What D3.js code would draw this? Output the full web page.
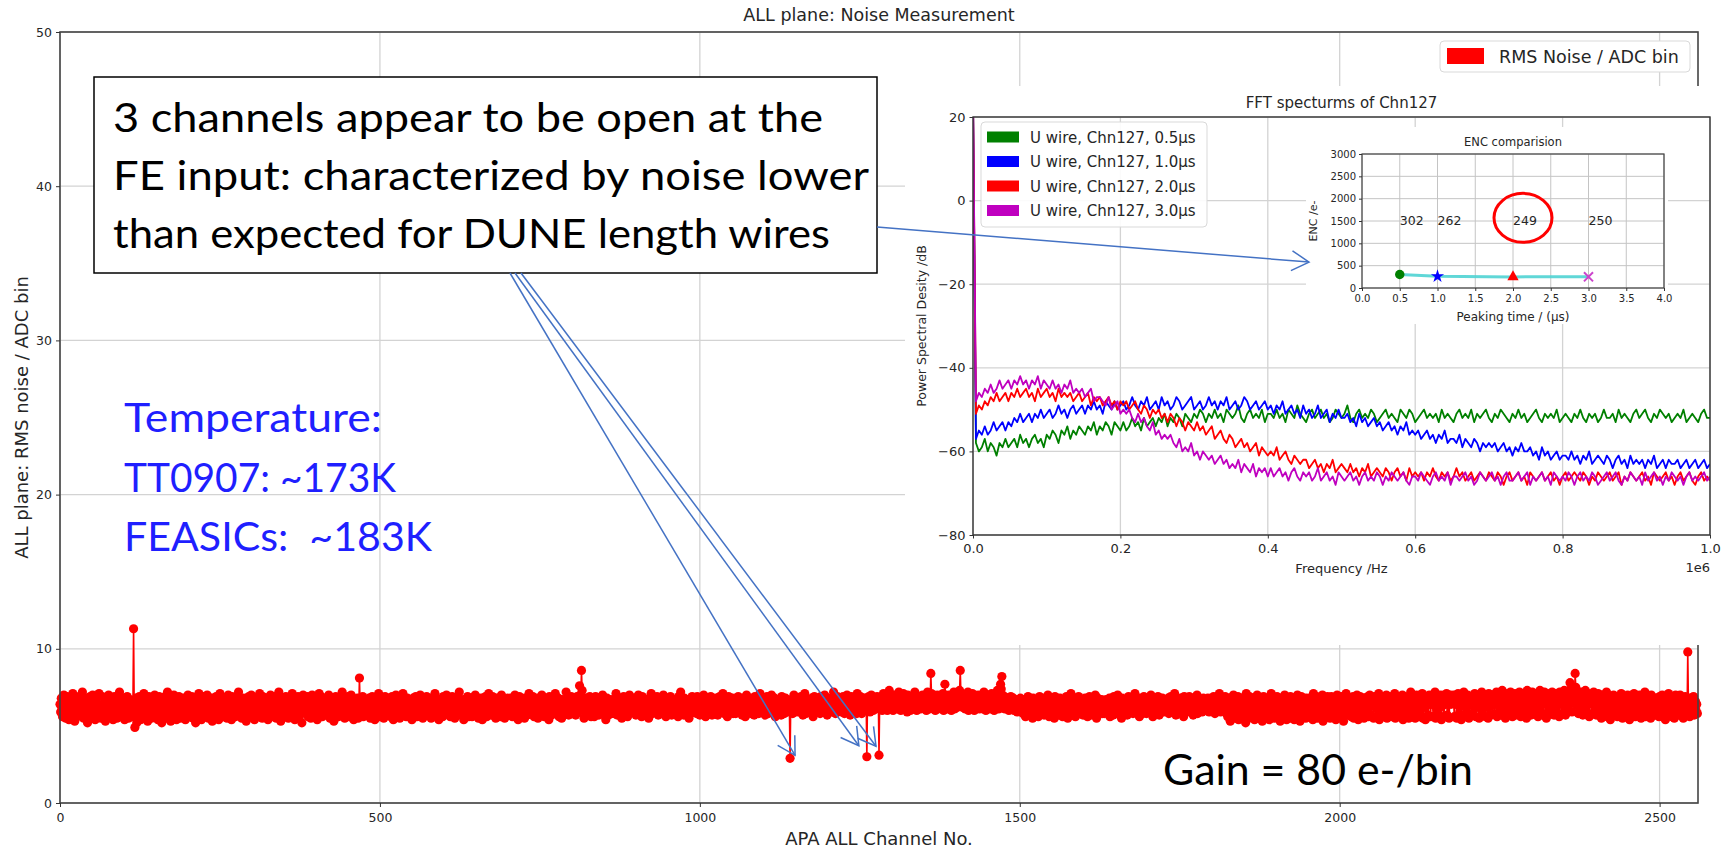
<!DOCTYPE html>
<html>
<head>
<meta charset="utf-8">
<script src="https://cdn.jsdelivr.net/npm/d3@7"></script>
<style>
  html, body { margin: 0; padding: 0; background: #fff; }
  svg { display: block; }
</style>
</head>
<body>
<svg id="chart" width="1725" height="849"></svg>
<script>
// ---------------------------------------------------------------------------
// Data
// ---------------------------------------------------------------------------

// RMS noise (ADC bins) for APA channels 0..2559, 32 channels per row
const channelNoise = [
6.4,5.9,6.8,6.1,5.6,6.3,7.0,5.8,6.2,5.5,6.6,6.9,5.9,6.1,5.4,6.5,6.7,6.0,5.7,6.4,7.1,6.2,5.8,5.3,6.3,6.9,6.0,5.6,6.5,6.2,5.9,6.8,
6.1,5.7,6.6,7.2,6.0,5.5,6.3,6.8,5.9,6.4,6.1,5.2,6.7,6.3,5.8,6.9,6.2,5.6,6.5,7.0,5.9,6.1,6.6,5.4,6.0,6.8,6.3,5.7,6.4,7.1,5.8,6.2,
5.5,6.3,6.9,6.0,5.8,6.5,6.2,5.3,6.7,6.1,5.9,6.6,7.0,5.6,6.4,6.0,5.7,6.8,6.2,5.4,6.5,6.9,6.1,5.8,6.3,5.5,6.7,6.2,5.9,7.2,6.0,5.6,
6.4,6.0,5.7,6.8,6.2,5.4,6.6,6.1,5.8,6.9,6.3,5.5,6.0,6.7,5.9,6.4,6.2,5.6,6.5,11.3,5.9,4.9,6.3,6.8,5.2,6.1,6.6,5.7,6.9,6.2,5.4,6.5,
6.8,6.2,5.9,7.1,6.4,5.6,6.0,6.7,6.3,5.3,6.5,6.9,5.8,6.2,6.6,5.5,6.1,6.8,5.9,6.4,7.0,6.0,5.7,6.3,6.6,5.4,6.2,6.9,5.8,6.5,6.1,5.2,
6.0,6.7,6.3,5.7,6.9,6.1,5.5,6.4,7.2,6.0,5.8,6.6,6.2,5.3,6.8,6.1,5.9,6.5,7.0,5.6,6.3,6.0,5.4,6.7,6.2,5.8,6.9,6.4,5.5,6.1,6.6,6.0,
5.7,6.4,6.8,6.1,5.4,6.6,6.3,5.9,7.0,6.2,5.6,6.5,6.0,5.8,6.9,6.3,5.5,6.1,6.7,6.4,5.2,6.8,6.0,5.7,6.5,7.1,5.9,6.2,6.6,5.4,6.3,6.9,
6.1,5.6,6.4,6.9,5.8,6.2,7.0,6.0,5.5,6.6,6.3,5.9,6.8,6.1,5.3,6.5,6.7,6.0,5.7,6.4,6.9,5.8,6.2,6.6,5.4,6.3,7.1,6.0,5.9,6.5,6.2,5.6,
6.3,6.8,5.9,6.1,6.6,5.5,6.4,7.0,6.0,5.7,6.5,6.2,5.4,6.9,6.3,5.8,6.6,6.1,5.6,6.8,6.2,5.9,6.4,7.2,5.7,6.0,6.7,6.3,5.5,6.1,6.8,6.4,
5.9,6.5,6.2,5.3,6.7,6.0,5.8,6.9,6.4,6.1,5.6,7.0,6.3,5.9,6.6,6.2,5.4,6.8,6.0,5.7,6.5,6.3,5.9,6.7,7.1,5.8,6.2,6.4,5.5,6.9,6.1,6.0,
6.6,5.7,6.3,6.8,6.1,5.4,6.5,6.2,5.9,7.0,6.4,5.6,6.0,6.7,6.3,5.8,6.9,6.2,5.5,6.6,6.1,5.9,7.2,6.4,6.0,5.3,6.8,6.3,5.7,6.5,6.1,6.7,
6.2,6.9,5.8,6.4,6.0,5.5,6.7,6.3,5.7,6.1,6.8,7.1,5.9,6.4,6.2,5.4,6.6,6.0,5.8,6.5,6.9,6.2,5.6,6.3,6.7,6.1,5.2,6.4,7.0,5.9,6.3,6.6,
5.8,6.4,6.1,6.9,5.6,6.2,6.7,6.0,5.5,6.5,7.0,6.3,5.9,6.1,6.8,5.7,6.4,6.2,5.4,6.6,6.0,7.1,5.8,6.3,6.9,6.1,5.6,6.5,6.2,5.9,6.7,6.4,
6.0,6.6,5.7,6.3,7.0,6.1,5.5,6.8,6.2,5.9,6.4,6.7,5.3,6.0,6.5,6.9,5.8,6.3,6.1,5.6,6.8,6.4,6.0,5.7,6.6,7.2,6.2,5.9,6.4,5.5,6.1,6.7,
6.3,5.8,6.9,6.1,5.6,6.5,6.2,7.0,5.9,6.4,6.0,5.4,6.7,6.3,5.7,6.6,6.1,6.8,5.5,6.2,8.1,6.4,6.0,5.8,6.5,6.9,5.6,6.3,6.1,5.9,6.7,6.2,
5.7,6.4,6.0,6.8,6.2,5.5,6.6,6.1,6.9,5.8,6.3,6.5,5.4,6.0,6.7,6.2,5.9,6.4,7.1,6.0,5.6,6.3,6.8,5.8,6.2,6.6,5.5,6.1,6.9,6.4,5.7,6.3,
6.5,6.0,5.8,6.7,6.3,5.6,6.2,6.9,6.1,5.4,6.6,6.3,5.9,7.0,6.0,5.7,6.4,6.8,6.1,5.5,6.2,6.6,5.9,6.3,7.1,6.0,5.8,6.5,6.2,5.6,6.4,6.8,
6.0,6.3,6.7,5.9,6.1,6.5,5.4,6.2,6.8,6.0,5.7,6.4,6.9,6.1,5.6,6.3,6.6,5.8,6.2,7.0,5.9,6.4,6.1,5.5,6.3,6.7,6.0,5.8,6.5,6.9,6.2,5.7,
6.4,5.9,6.1,6.6,5.5,6.3,6.8,6.0,5.8,6.2,7.1,6.4,5.7,6.0,6.5,6.1,5.4,6.7,6.3,5.9,6.6,6.2,5.6,6.9,6.1,6.4,5.8,6.3,7.0,5.9,6.2,6.5,
6.2,6.7,5.6,6.0,6.4,6.9,5.9,6.3,6.1,5.5,6.6,6.2,5.8,6.8,6.4,6.0,7.2,5.9,6.3,6.5,5.7,6.1,6.7,5.4,6.4,6.0,6.6,5.8,6.2,6.9,6.3,5.6,
5.9,6.3,6.8,6.1,5.6,6.5,6.2,5.8,6.6,7.0,6.0,5.7,6.4,6.1,5.5,6.7,6.3,5.9,6.8,6.2,5.4,6.6,6.0,6.4,5.8,6.9,6.1,5.6,6.5,6.3,7.1,6.0,
6.6,6.1,5.7,6.4,6.9,6.0,5.8,6.5,6.2,5.5,6.3,6.8,6.0,5.9,6.6,6.2,5.6,6.4,7.0,6.1,5.8,6.3,6.7,5.5,6.2,6.0,6.5,5.9,6.8,6.4,5.7,6.3,
6.0,6.8,6.2,5.6,6.5,6.1,5.9,7.0,6.3,5.7,6.6,6.4,5.4,6.2,6.9,6.0,5.8,6.5,6.1,6.7,5.9,6.3,5.5,6.8,6.4,6.0,5.7,6.6,6.2,7.1,5.9,6.1,
6.3,5.8,6.4,6.9,6.1,5.6,6.7,6.2,5.9,6.5,6.0,5.5,6.8,6.3,6.1,5.7,6.6,7.0,6.2,5.9,6.4,5.6,6.0,6.7,6.1,5.8,6.5,6.3,5.4,6.9,6.2,6.6,
5.7,6.2,6.6,6.0,5.8,6.4,7.1,6.1,6.5,5.9,6.3,6.8,5.6,6.0,6.4,6.2,5.5,6.7,6.1,5.9,6.6,6.3,5.8,7.2,6.0,6.4,6.2,5.7,6.8,6.1,6.5,6.9,
6.2,5.8,6.5,6.1,6.7,6.0,5.7,6.4,6.9,6.3,5.9,6.6,7.6,7.0,6.8,8.6,7.3,6.2,6.0,5.5,6.4,6.1,6.8,5.8,6.3,6.6,5.9,6.2,6.9,6.0,5.6,6.5,
6.1,6.7,6.3,5.6,6.5,6.9,6.2,5.9,6.4,6.0,5.7,6.8,6.1,6.5,5.8,6.3,7.0,6.2,5.9,6.6,6.0,5.4,6.4,6.8,6.2,5.7,6.6,6.3,6.0,6.7,5.8,6.4,
6.5,6.0,5.8,6.6,6.3,7.1,6.1,5.7,6.4,6.8,6.2,5.9,6.5,6.0,5.5,6.6,6.3,6.9,6.1,5.8,6.4,6.7,6.0,5.6,6.2,6.5,7.0,6.1,5.9,6.3,6.8,6.0,
5.9,6.4,6.2,6.8,5.7,6.3,6.0,6.6,7.0,6.1,5.8,6.5,6.2,5.6,6.9,6.3,6.0,5.7,6.4,6.7,6.1,5.9,6.5,6.2,5.5,6.8,6.3,6.0,7.1,6.4,5.8,6.1,
6.6,6.2,5.9,6.4,6.0,6.9,6.3,5.7,6.1,6.5,6.8,5.8,6.2,6.0,6.6,7.0,5.9,6.3,6.1,5.6,6.7,6.4,6.2,5.8,6.5,6.0,6.9,6.3,5.7,6.1,6.6,6.4,
6.3,5.8,6.7,6.1,6.5,6.2,5.6,6.9,6.0,6.4,7.2,5.9,6.3,6.6,6.1,5.7,6.8,6.2,5.9,6.5,6.0,6.7,6.3,5.5,6.4,6.1,5.8,6.6,6.9,6.2,6.0,6.5,
6.0,6.5,6.2,5.8,6.9,6.1,6.4,6.7,5.7,6.3,6.0,6.6,6.2,5.9,7.0,6.4,6.1,5.6,6.5,6.8,6.3,6.0,5.8,6.6,6.2,6.9,6.4,5.7,6.1,6.5,6.3,5.9,
6.4,6.1,6.8,6.0,5.7,6.6,6.3,6.9,6.2,5.9,6.5,6.1,7.1,6.4,5.8,6.2,6.7,6.0,6.3,5.6,6.6,6.9,6.1,5.9,6.5,6.2,6.0,6.8,5.8,6.4,6.7,6.1,
5.8,6.3,6.6,6.2,6.9,5.9,6.4,6.0,6.7,6.1,5.7,6.5,6.3,6.8,6.0,5.6,6.4,7.0,6.2,5.9,6.5,6.1,6.7,6.3,5.8,6.6,6.0,6.4,6.2,5.7,6.9,6.3,
6.2,6.7,6.0,6.5,5.8,6.3,7.1,6.1,5.9,6.4,6.6,6.0,6.8,6.2,5.7,6.5,6.1,6.9,6.3,5.8,6.4,6.0,6.6,6.2,7.0,5.9,6.5,6.1,6.3,6.8,5.6,6.4,
6.0,6.6,6.3,5.9,6.7,6.2,6.4,5.7,6.9,6.1,6.5,6.0,5.8,6.3,6.8,6.2,6.4,5.9,6.6,6.1,6.0,2.9,6.2,6.7,6.5,5.8,6.3,7.0,6.1,6.4,5.9,6.6,
6.3,6.8,6.1,5.9,6.5,6.2,6.9,6.0,6.4,5.7,6.6,6.3,7.1,6.1,5.8,6.5,6.2,6.7,6.0,6.4,5.9,6.6,6.3,6.8,6.1,5.6,6.5,6.9,6.2,6.0,6.7,6.3,
6.5,6.1,6.7,6.3,5.8,6.9,6.2,6.4,6.0,6.6,5.9,7.0,6.3,6.1,6.5,5.7,6.8,6.2,6.4,6.0,6.7,5.9,6.3,6.6,6.1,7.2,6.0,6.5,5.8,6.4,6.2,6.9,
6.2,6.6,6.0,6.8,6.4,5.9,6.5,6.1,6.9,6.3,5.8,6.7,6.2,6.5,7.0,6.0,6.4,6.1,6.6,5.7,6.3,6.9,6.2,6.5,6.0,6.8,6.4,6.1,6.6,5.8,7.1,6.3,
6.6,6.1,6.4,6.9,6.2,5.8,6.7,6.3,6.5,6.0,6.8,6.2,6.4,3.0,6.6,6.1,6.9,6.3,5.9,6.5,7.0,6.2,6.4,6.0,6.7,6.3,6.8,6.1,6.5,6.9,6.2,6.6,
3.1,6.4,6.7,6.2,6.9,6.0,6.5,7.1,6.3,6.6,6.1,6.8,6.4,6.0,6.7,6.2,7.3,6.5,6.1,6.9,6.3,6.6,6.0,6.8,6.4,7.0,6.2,6.5,6.8,6.1,6.6,7.2,
6.3,6.7,6.0,6.9,6.4,6.2,7.1,6.5,6.1,6.8,6.3,6.6,5.9,7.0,6.4,6.2,6.7,6.0,6.5,6.9,6.3,6.8,6.1,6.4,7.2,6.6,6.2,6.0,6.7,6.5,6.9,6.3,
6.5,6.1,6.8,6.4,7.0,6.2,6.6,6.9,6.3,6.7,6.0,6.5,7.2,6.4,6.8,6.1,6.6,8.4,7.1,6.3,6.9,6.2,6.5,6.8,6.0,6.7,6.4,7.0,6.1,6.6,6.3,6.9,
6.4,6.8,6.2,6.6,7.1,6.0,6.5,7.7,6.9,6.3,6.7,6.1,6.4,7.0,6.2,6.8,6.5,6.0,6.9,6.3,6.6,7.2,6.1,6.7,6.4,6.8,6.2,7.0,6.5,6.3,7.3,8.6,
7.1,6.5,6.9,6.2,6.7,6.4,7.0,6.1,6.6,6.8,6.3,7.2,6.0,6.5,6.9,6.4,6.2,6.7,7.1,6.3,6.6,6.0,6.8,6.5,6.9,6.2,6.4,7.0,6.7,6.1,6.5,6.8,
6.3,6.9,6.6,6.1,7.2,6.4,6.7,6.0,6.8,6.5,6.2,7.0,6.4,6.9,6.1,6.6,7.1,6.3,6.7,6.5,6.0,6.8,6.4,6.2,6.9,7.3,6.6,6.1,6.5,6.8,7.7,7.4,
8.2,7.0,6.6,6.3,6.9,6.1,6.5,6.8,6.2,6.7,6.4,6.0,6.6,6.3,6.9,6.1,6.5,6.2,6.8,6.0,6.4,6.7,6.1,6.3,5.9,6.6,6.2,6.5,6.0,6.8,6.3,6.1,
6.4,5.8,6.1,6.7,6.2,5.6,6.5,6.0,6.3,6.9,5.9,6.2,6.6,5.7,6.4,6.1,5.5,6.8,6.3,6.0,6.5,5.9,6.2,6.7,6.1,5.6,6.4,6.9,6.0,6.3,5.8,6.5,
6.2,6.6,5.7,6.3,6.8,6.0,5.9,6.4,7.0,6.1,5.6,6.5,6.2,5.8,6.7,6.3,6.0,6.4,5.5,6.9,6.1,6.6,5.9,6.2,6.5,5.7,6.3,6.8,6.0,6.4,6.1,5.6,
6.7,6.0,6.4,5.8,6.2,6.9,6.1,5.5,6.6,6.3,5.9,6.5,7.1,6.0,5.7,6.4,6.2,6.8,6.0,5.6,6.3,6.7,5.9,6.1,6.9,6.4,5.8,6.2,6.5,6.0,6.6,5.7,
6.1,6.5,6.8,5.9,6.3,6.0,5.6,6.6,6.2,6.9,6.4,5.7,6.1,6.7,6.3,5.8,6.5,6.0,7.0,6.2,5.5,6.4,6.8,6.1,5.9,6.3,6.6,6.0,6.7,5.8,6.2,6.4,
5.8,6.4,6.2,6.7,6.0,5.9,6.5,6.3,6.8,5.6,6.1,6.6,6.4,6.0,5.7,6.9,6.3,6.2,5.8,6.5,6.1,7.0,6.4,5.9,6.6,6.0,6.3,5.5,6.8,6.2,6.5,6.1,
6.5,6.0,6.6,6.2,5.7,6.4,6.9,6.1,5.9,6.3,6.7,6.0,6.5,5.8,6.2,6.6,7.1,6.1,5.9,6.4,6.0,6.8,6.3,5.6,6.2,6.7,6.4,6.0,5.8,6.5,6.9,6.3,
6.0,6.3,5.8,6.7,6.4,6.1,6.6,5.9,6.2,7.0,6.5,6.0,5.6,6.4,6.8,6.2,6.1,5.9,6.6,6.3,6.9,6.0,5.7,6.5,6.4,6.2,6.0,6.8,6.1,5.9,6.7,6.3,
6.6,6.1,6.4,6.0,6.8,5.8,6.3,6.5,6.9,6.2,5.9,6.6,6.0,6.4,7.1,6.1,5.7,6.5,6.3,6.0,6.7,6.2,5.9,6.4,6.8,6.0,6.5,6.2,5.6,6.9,6.3,6.1,
6.3,6.7,6.0,6.5,6.2,6.9,5.9,6.4,6.1,6.6,6.3,5.7,6.8,6.0,6.5,6.2,6.4,7.0,5.8,6.1,6.6,6.3,6.0,6.7,6.2,5.9,6.5,6.8,6.1,6.4,6.0,6.6,
6.1,6.4,6.8,6.2,5.9,6.6,6.3,6.0,6.7,6.2,6.5,6.9,6.0,5.8,6.4,6.1,6.8,6.3,6.0,6.6,7.1,6.2,5.9,6.5,6.0,6.7,6.3,6.1,6.4,6.9,6.2,5.8,
6.5,5.6,6.6,6.0,6.8,5.3,6.1,6.7,5.9,6.4,7.0,6.2,5.5,6.0,6.6,6.3,6.1,6.9,5.4,5.8,6.3,6.7,6.0,6.5,6.8,5.7,6.4,6.0,6.6,5.2,7.1,6.3,
6.2,6.6,5.5,6.9,6.3,6.0,5.7,6.8,6.2,5.9,6.7,5.4,6.1,6.6,6.3,7.0,6.0,5.6,6.2,6.8,6.4,5.8,6.6,5.3,6.3,6.9,6.0,5.5,6.7,6.2,6.4,5.9,
6.7,6.1,5.4,6.0,6.6,7.1,5.7,6.5,6.0,6.8,5.5,5.9,6.5,6.3,6.9,5.6,6.4,6.0,6.7,5.3,6.6,6.4,5.8,6.8,6.1,5.6,7.0,6.3,6.0,5.4,6.2,6.4,
6.0,6.6,5.5,6.9,6.2,5.7,6.0,6.7,6.4,5.4,6.8,6.3,5.9,6.6,7.0,5.6,6.5,6.1,5.3,6.0,6.9,6.3,5.8,6.2,5.8,6.7,6.4,5.5,6.8,6.5,6.0,5.7,
6.4,6.8,5.6,6.5,6.0,6.7,5.4,7.1,6.2,5.8,6.0,6.4,6.9,5.5,6.5,6.3,6.8,5.7,5.9,6.6,6.4,7.0,5.3,6.5,6.3,6.0,6.7,5.6,6.5,6.9,5.8,6.1,
6.6,5.5,6.5,6.9,6.1,5.7,6.7,6.0,6.8,6.3,5.4,6.1,7.0,6.4,5.8,6.6,6.0,6.7,5.6,6.9,6.2,6.5,5.3,6.8,6.4,5.9,7.1,6.5,5.7,6.6,6.3,6.0,
6.3,6.7,5.6,6.6,6.4,6.9,5.5,6.5,6.1,6.8,5.8,7.0,6.3,5.4,6.6,6.2,6.9,6.5,5.7,6.4,6.7,6.3,5.5,6.8,6.2,6.6,5.9,6.1,6.9,5.6,6.3,7.0,
6.5,5.7,6.8,6.3,6.6,5.5,6.9,6.4,6.2,6.7,5.6,6.1,6.8,7.1,5.4,6.6,6.0,6.4,6.9,5.8,6.5,6.8,5.6,6.7,6.3,7.0,5.5,6.6,6.2,6.5,6.9,5.9,
6.2,6.8,5.6,6.0,6.7,6.4,7.1,5.5,6.6,6.1,6.9,5.7,6.2,6.7,6.5,5.8,6.8,6.3,7.0,5.4,6.1,6.5,6.9,6.2,5.6,6.7,6.0,6.8,5.5,6.3,6.6,7.2,
6.6,5.7,6.9,6.5,6.1,6.8,5.5,6.7,7.0,6.2,5.6,6.4,6.9,5.8,6.7,6.5,6.3,7.1,5.5,6.8,6.2,6.6,5.4,6.9,6.5,6.8,5.7,6.7,7.0,6.4,5.6,6.6,
6.4,6.9,5.6,6.7,6.5,7.2,5.5,6.8,6.1,6.6,5.8,6.9,6.2,6.7,7.0,5.4,6.8,6.3,6.6,5.6,6.9,6.4,6.7,7.1,5.7,6.5,6.8,5.5,6.6,7.0,6.4,6.9,
6.5,6.8,7.0,5.6,6.7,6.4,6.9,5.5,6.6,7.1,6.5,5.8,6.3,6.7,5.4,6.9,6.4,6.6,7.2,5.7,6.8,6.2,6.7,5.6,7.0,6.3,5.5,6.9,6.5,6.8,5.8,6.7,
6.9,5.7,6.7,7.1,6.5,5.6,6.2,6.6,7.0,6.3,5.5,6.5,6.7,6.1,7.2,5.8,6.4,6.8,6.5,7.0,5.6,6.7,6.9,6.2,5.5,7.1,6.4,6.8,5.7,6.3,7.0,6.7,
6.6,7.0,5.8,6.9,6.4,7.2,5.6,6.8,6.5,7.1,6.2,5.7,6.9,6.6,7.3,5.9,6.7,6.4,7.0,5.5,6.8,6.5,7.1,6.3,5.8,6.9,6.6,7.2,6.0,6.7,5.6,7.0,
6.8,6.3,7.1,5.7,6.9,6.5,7.0,5.9,6.6,7.2,6.4,5.6,6.8,7.0,6.2,6.9,5.8,7.1,6.5,6.7,5.5,7.3,6.6,6.8,6.1,6.9,7.0,5.7,6.6,7.2,6.4,5.9,
7.0,6.5,6.8,5.8,7.1,6.6,5.6,6.9,6.7,7.3,6.3,5.9,7.0,6.8,5.7,6.6,7.2,6.4,6.9,5.5,6.7,7.1,6.5,6.0,6.8,7.0,5.8,6.6,7.2,6.3,6.9,5.7,
6.9,6.6,7.1,5.9,6.8,7.0,6.4,5.6,7.2,6.7,6.5,5.8,7.0,6.9,6.3,7.3,6.6,5.7,7.1,6.8,6.4,7.2,6.0,6.9,7.8,7.4,6.7,5.9,7.0,6.5,7.3,6.8,
8.4,7.5,6.9,6.3,7.1,5.8,6.7,7.0,6.5,7.2,6.1,6.8,5.7,7.0,6.6,6.9,7.3,6.2,5.9,6.8,7.1,6.4,5.6,6.7,7.0,6.5,6.9,5.8,6.6,7.2,6.3,6.0,
6.7,5.7,6.9,6.4,7.1,5.9,6.6,6.2,6.8,5.5,7.0,6.3,6.5,5.8,6.9,6.1,6.4,7.2,5.6,6.7,6.3,6.0,6.8,5.4,6.6,6.9,6.2,5.7,7.0,6.4,6.1,6.5,
6.2,6.8,5.6,6.5,6.9,6.0,5.8,6.6,7.1,6.3,5.5,6.7,6.1,6.4,5.9,6.8,6.5,5.7,7.0,6.2,6.6,5.4,6.3,6.9,6.0,6.7,5.8,6.4,7.1,6.1,5.6,6.5,
6.6,6.1,6.9,5.7,6.4,7.0,6.2,5.5,6.8,6.3,5.9,6.7,6.0,7.2,5.6,6.5,6.2,6.9,6.4,5.8,6.6,6.1,5.5,7.0,6.3,5.9,6.7,6.4,6.0,6.8,5.7,6.6,
6.0,6.7,6.3,5.6,6.9,6.2,6.5,5.9,7.0,6.4,5.7,6.6,6.1,5.4,6.8,6.3,6.5,6.0,7.1,6.2,5.8,6.7,6.4,5.6,6.9,6.1,6.3,5.5,6.6,7.0,6.2,5.8,
6.4,6.8,5.7,6.2,7.0,6.5,5.9,6.6,6.1,5.5,6.7,6.3,6.9,5.8,6.4,6.0,9.8,6.6,6.2,5.6,6.8,6.4,5.9,6.5,6.3,6.9,5.7,6.1,6.6,6.0,6.4,5.8
];

// Axis ticks of the channel plot
const channelTicks = [0, 500, 1000, 1500, 2000, 2500];
const noiseTicks = [0, 10, 20, 30, 40, 50];

// Channels flagged as open at the FE input
const openChannels = [1141, 1261, 1280];

// FFT power spectral density of channel 127 (dB), bins of 4 kHz from DC to 1 MHz
const fftBinMHz = 0.004;
const psd05us = [25,
-58,-60,-59,-57,-60,-58,-59,-61,-58,-59,-57,-59,
-58,-57,-59,-56,-58,-57,-59,-57,-56,-58,-57,-59,-56,
-57,-55,-56,-58,-55,-56,-54,-57,-55,-56,-54,-55,
-56,-54,-55,-53,-56,-54,-55,-53,-54,-56,-53,-54,-55,
-53,-55,-54,-52,-54,-53,-55,-52,-54,-53,-52,-54,
-52,-53,-51,-54,-52,-53,-51,-52,-54,-51,-52,-53,-51,
-52,-50,-51,-53,-51,-52,-50,-52,-51,-53,-50,-51,-52,-51,-49,-52,-53,-51,-50,-52,
-51,-52,-50,-53,-51,-51,-52,-50,-52,-51,-53,-50,-51,-52,-49,-51,-52,-53,-51,-50,
-52,-51,-50,-52,-51,-53,-52,-50,-51,-52,-51,-49,-52,-53,-51,-50,-52,-51,-52,-50,
-51,-53,-52,-51,-50,-52,-51,-52,-53,-50,-51,-52,-50,-51,-53,-52,-51,-50,-52,-51,
-52,-51,-53,-50,-52,-51,-52,-53,-51,-50,-52,-51,-52,-50,-53,-51,-52,-51,-50,-52,
-53,-51,-52,-50,-51,-52,-53,-51,-52,-50,-52,-51,-53,-52,-51,-50,-52,-53,-51,-52,
-51,-52,-50,-53,-52,-51,-52,-53,-51,-52,-50,-52,-53,-51,-52,-51,-53,-52,-50,-52,
-52,-51,-53,-50,-52,-51,-52,-53,-51,-50,-52,-51,-50,-52,-53,-51,-52,-50,-51,-52,
-51,-53,-52,-51,-52,-50,-53,-52,-51,-52,-53,-51,-50,-52,-52];
const psd10us = [25,
-57,-55,-56,-54,-56,-55,-53,-55,-54,-53,-55,-53,
-54,-52,-53,-51,-53,-52,-51,-53,-51,-52,-50,-52,-51,
-50,-52,-51,-49,-51,-50,-52,-50,-49,-51,-50,-49,
-51,-49,-50,-48,-50,-49,-51,-48,-49,-50,-48,-50,-49,
-48,-50,-49,-47,-49,-50,-48,-49,-47,-50,
-49,-48,-50,-47,-49,-48,-50,-49,-47,-48,
-50,-49,-48,-47,-50,-49,-48,-50,-49,-47,
-49,-48,-50,-48,-49,-47,-50,-49,-48,-50,
-49,-47,-48,-50,-49,-48,-50,-49,-48,-50,
-49,-51,-49,-50,-48,-51,-50,-49,-51,-50,-52,-49,
-51,-50,-52,-51,-49,-52,-51,-50,-53,-51,-52,-50,-52,
-52,-51,-53,-52,-54,-51,-53,-52,-54,-53,-52,-54,
-53,-55,-54,-53,-55,-54,-56,-54,-55,-53,-56,-55,-56,
-55,-57,-56,-55,-57,-56,-58,-56,-57,-55,-58,-57,
-57,-58,-56,-59,-57,-58,-59,-57,-58,-60,-58,-59,-58,
-59,-58,-60,-59,-58,-60,-59,-61,-59,-60,-58,-60,
-60,-59,-61,-60,-62,-59,-61,-60,-62,-61,-60,-62,-61,
-61,-62,-60,-62,-61,-63,-61,-62,-60,-63,-62,-61,
-62,-63,-61,-62,-64,-62,-61,-63,-62,-64,-61,-63,-62,
-63,-62,-64,-62,-63,-61,-64,-63,-62,-64,-62,-63,
-63,-62,-64,-63,-62,-64,-63,-62,-64,-63,-62,-64,-63];
const psd20us = [25,
-51,-49,-50,-48,-49,
-47,-48,-46,-48,-47,-46,-48,
-46,-47,-45,-47,-46,-45,-47,-46,-48,-45,
-47,-46,-45,-47,-46,-48,-45,-47,-46,-47,
-46,-48,-47,-46,-48,-47,-46,-49,-47,-48,
-47,-49,-48,-47,-49,-48,-50,-48,
-49,-48,-50,-49,-48,-50,-51,-49,-50,-52,-50,-51,
-50,-52,-51,-53,-51,-52,-54,-52,-53,-55,-53,-54,-55,
-53,-55,-54,-56,-55,-54,-57,-56,-55,-57,-58,-56,
-57,-59,-58,-57,-59,-58,-60,-59,-58,-61,-59,-60,-61,
-60,-61,-59,-62,-61,-60,-62,-63,-61,-62,-63,-62,
-62,-64,-63,-62,-64,-63,-65,-63,-64,-62,-65,-64,-63,
-64,-65,-63,-65,-64,-66,-64,-65,-63,-66,-65,-64,
-65,-66,-64,-65,-67,-65,-64,-66,-65,-67,-64,-66,-65,
-66,-65,-67,-65,-66,-64,-66,-67,-65,-66,-65,-67,-66,-64,-66,-65,-67,-66,-65,-67,-66,-65,-66,-67,-65,
-66,-67,-65,-66,-68,-66,-65,-67,-66,-65,-67,-66,-68,-65,-66,-67,-66,-65,-67,-66,
-65,-67,-66,-68,-66,-65,-67,-66,-65,-66,-67,-65,-66,-68,-66,-67,-65,-66,-67,-66,
-65,-67,-66,-65,-68,-66,-67,-65,-66,-67,-66,-65,-67,-66,-68,-65,-66,-67,-66,-65,
-67,-66,-68,-66,-65,-67,-66,-65,-67,-68,-66,-65,-67,-66,-67];
const psd30us = [25,
-48,-46,-47,-45,-46,
-44,-46,-45,-43,-45,-44,-43,
-45,-43,-44,-42,-44,-43,-45,-43,
-44,-42,-45,-43,-44,-45,-43,
-45,-44,-46,-44,-45,-43,-46,-45,
-46,-45,-47,-46,-45,-48,-47,
-47,-48,-49,-47,-50,-49,-48,-51,
-50,-51,-50,-52,-53,-51,-53,
-52,-54,-55,-53,-56,-55,-57,-56,
-57,-56,-58,-59,-57,-60,-59,
-60,-58,-61,-60,-62,-60,-61,-62,
-61,-63,-62,-61,-63,-62,-64,
-63,-64,-62,-65,-63,-64,-65,-63,-66,-64,-65,-64,-66,
-64,-66,-65,-64,-66,-65,-67,-65,-64,-66,-67,-65,
-66,-65,-67,-66,-64,-67,-66,-65,-67,-66,-68,-65,-66,
-67,-66,-65,-67,-66,-68,-66,-65,-67,-66,-67,-65,-66,-68,-66,-67,-65,-66,-67,-66,
-65,-67,-68,-66,-66,-67,-65,-66,-67,-68,-66,-65,-67,-66,-67,-65,-68,-66,-66,-67,
-66,-65,-67,-66,-68,-67,-65,-66,-67,-66,-65,-67,-66,-68,-66,-65,-67,-67,-66,-65,
-67,-66,-65,-68,-66,-67,-66,-65,-67,-66,-68,-65,-66,-67,-66,-67,-65,-66,-68,-66,
-65,-67,-66,-67,-65,-66,-68,-67,-66,-65,-67,-66,-65,-67,-68,-66,-67,-65,-66,-67,
-66,-68,-65,-67,-66,-65,-67,-66,-68,-66,-67,-65,-66,-67,-66,-68,-66,-65,-67,-66,
-67,-66,-65,-67,-66];
const fftLabels = ["U wire, Chn127, 0.5\u00b5s", "U wire, Chn127, 1.0\u00b5s",
                   "U wire, Chn127, 2.0\u00b5s", "U wire, Chn127, 3.0\u00b5s"];
const freqTicks = [0, 0.2, 0.4, 0.6, 0.8, 1.0];
const psdTicks = [-80, -60, -40, -20, 0, 20];

// ENC versus peaking time
const peakingTimes = [0.5, 1.0, 2.0, 3.0];
const encValues = [302, 262, 249, 250];
const peakingTicks = [0, 0.5, 1.0, 1.5, 2.0, 2.5, 3.0, 3.5, 4.0];
const encTicks = [0, 500, 1000, 1500, 2000, 2500, 3000];

// ---------------------------------------------------------------------------
// Styles
// ---------------------------------------------------------------------------
const INK = "#262626";
const GRID = "#d3d3d3";
const MPL = "DejaVu Sans, sans-serif";
const NOTE = "Lato, 'Open Sans', sans-serif";
const ARROW = "#4472c4";
const fftColors = ["#008000", "#0000ff", "#ff0000", "#bf00bf"];
const psdSeries = [psd05us, psd10us, psd20us, psd30us];

const svg = d3.select("#chart");

function styleAxis(g, size) {
  g.attr("font-family", MPL).attr("font-size", size);
  g.select(".domain").remove();
  g.selectAll(".tick line").attr("stroke", "#333").attr("stroke-width", 1);
  g.selectAll(".tick text").attr("fill", INK);
}

// ---------------------------------------------------------------------------
// Channel noise plot
// ---------------------------------------------------------------------------
const x = d3.scaleLinear().domain([0, 2560]).range([60, 1698]);
const y = d3.scaleLinear().domain([0, 50]).range([803, 32]);

const main = svg.append("g");
main.append("g").selectAll("line").data(channelTicks).join("line")
  .attr("x1", d => x(d)).attr("x2", d => x(d))
  .attr("y1", y(0)).attr("y2", y(50))
  .attr("stroke", GRID).attr("stroke-width", 1.3);
main.append("g").selectAll("line").data(noiseTicks).join("line")
  .attr("x1", x(0)).attr("x2", x(2560))
  .attr("y1", d => y(d)).attr("y2", d => y(d))
  .attr("stroke", GRID).attr("stroke-width", 1.3);

const noisePts = channelNoise.map((v, i) => [i, v]);
main.append("path").datum(noisePts)
  .attr("d", d3.line().x(d => x(d[0])).y(d => y(d[1])))
  .attr("fill", "none").attr("stroke", "#ff0000").attr("stroke-width", 1.6);
main.append("g").selectAll("circle").data(noisePts).join("circle")
  .attr("cx", d => x(d[0])).attr("cy", d => y(d[1])).attr("r", 4.6)
  .attr("fill", "#ff0000");

main.append("rect")
  .attr("x", x(0)).attr("y", y(50))
  .attr("width", x(2560) - x(0)).attr("height", y(0) - y(50))
  .attr("fill", "none").attr("stroke", "#444").attr("stroke-width", 1.6);

main.append("g").attr("transform", `translate(0,${y(0)})`)
  .call(d3.axisBottom(x).tickValues(channelTicks).tickSize(4).tickPadding(6).tickFormat(d3.format("d")))
  .call(g => styleAxis(g, 12.5));
main.append("g").attr("transform", `translate(${x(0)},0)`)
  .call(d3.axisLeft(y).tickValues(noiseTicks).tickSize(4).tickPadding(4).tickFormat(d3.format("d")))
  .call(g => styleAxis(g, 12.5));

main.append("text").attr("x", (x(0) + x(2560)) / 2).attr("y", 21)
  .attr("text-anchor", "middle").attr("font-family", MPL).attr("font-size", 17.5)
  .attr("fill", INK).text("ALL plane: Noise Measurement");
main.append("text").attr("x", (x(0) + x(2560)) / 2).attr("y", 845)
  .attr("text-anchor", "middle").attr("font-family", MPL).attr("font-size", 18)
  .attr("fill", INK).text("APA ALL Channel No.");
main.append("text")
  .attr("transform", `translate(28,${(y(0) + y(50)) / 2}) rotate(-90)`)
  .attr("text-anchor", "middle").attr("font-family", MPL).attr("font-size", 18)
  .attr("fill", INK).text("ALL plane: RMS noise / ADC bin");

// legend
const lg = main.append("g").attr("transform", "translate(1440,41)");
lg.append("rect").attr("width", 250).attr("height", 31).attr("rx", 4)
  .attr("fill", "#fff").attr("stroke", "#d9d9d9").attr("stroke-width", 1);
lg.append("rect").attr("x", 7).attr("y", 7).attr("width", 37).attr("height", 16).attr("fill", "#ff0000");
lg.append("text").attr("x", 59).attr("y", 21.5).attr("font-family", MPL).attr("font-size", 17.5)
  .attr("fill", INK).text("RMS Noise / ADC bin");

// ---------------------------------------------------------------------------
// FFT spectrum inset
// ---------------------------------------------------------------------------
const fft = svg.append("g");
fft.append("rect").attr("x", 905).attr("y", 86).attr("width", 820).attr("height", 559).attr("fill", "#fff");

const fx = d3.scaleLinear().domain([0, 1.0]).range([973, 1710]);
const fy = d3.scaleLinear().domain([-80, 20]).range([535, 117]);

fft.append("g").selectAll("line").data(freqTicks).join("line")
  .attr("x1", d => fx(d)).attr("x2", d => fx(d)).attr("y1", fy(-80)).attr("y2", fy(20))
  .attr("stroke", GRID).attr("stroke-width", 1.3);
fft.append("g").selectAll("line").data(psdTicks).join("line")
  .attr("x1", fx(0)).attr("x2", fx(1)).attr("y1", d => fy(d)).attr("y2", d => fy(d))
  .attr("stroke", GRID).attr("stroke-width", 1.3);

svg.append("defs").append("clipPath").attr("id", "fftClip")
  .append("rect").attr("x", fx(0)).attr("y", fy(20))
  .attr("width", fx(1) - fx(0)).attr("height", fy(-80) - fy(20));

const psdLine = d3.line().x((d, i) => fx(i * fftBinMHz)).y(d => fy(d));
fft.append("g").attr("clip-path", "url(#fftClip)")
  .selectAll("path").data(psdSeries).join("path")
  .attr("d", d => psdLine(d))
  .attr("fill", "none").attr("stroke", (d, i) => fftColors[i]).attr("stroke-width", 1.8)
  .attr("stroke-linejoin", "round");

fft.append("rect").attr("x", fx(0)).attr("y", fy(20))
  .attr("width", fx(1) - fx(0)).attr("height", fy(-80) - fy(20))
  .attr("fill", "none").attr("stroke", "#333").attr("stroke-width", 1.4);

fft.append("g").attr("transform", `translate(0,${fy(-80)})`)
  .call(d3.axisBottom(fx).tickValues(freqTicks).tickSize(3.5).tickPadding(5).tickFormat(d3.format(".1f")))
  .call(g => styleAxis(g, 13));
fft.append("g").attr("transform", `translate(${fx(0)},0)`)
  .call(d3.axisLeft(fy).tickValues(psdTicks).tickSize(3.5).tickPadding(4).tickFormat(d3.format("d")))
  .call(g => styleAxis(g, 13));

fft.append("text").attr("x", (fx(0) + fx(1)) / 2).attr("y", 108)
  .attr("text-anchor", "middle").attr("font-family", MPL).attr("font-size", 15)
  .attr("fill", INK).text("FFT specturms of Chn127");
fft.append("text").attr("x", (fx(0) + fx(1)) / 2).attr("y", 573)
  .attr("text-anchor", "middle").attr("font-family", MPL).attr("font-size", 13)
  .attr("fill", INK).text("Frequency /Hz");
fft.append("text").attr("x", fx(1)).attr("y", 572)
  .attr("text-anchor", "end").attr("font-family", MPL).attr("font-size", 13)
  .attr("fill", INK).text("1e6");
fft.append("text")
  .attr("transform", `translate(926,${(fy(-80) + fy(20)) / 2}) rotate(-90)`)
  .attr("text-anchor", "middle").attr("font-family", MPL).attr("font-size", 12.5)
  .attr("fill", INK).text("Power Spectral Desity /dB");

// spectrum legend
const fl = fft.append("g").attr("transform", "translate(981,122)");
fl.append("rect").attr("width", 226).attr("height", 105).attr("rx", 4)
  .attr("fill", "#fff").attr("fill-opacity", 0.9).attr("stroke", "#d9d9d9");
fl.selectAll("g.item").data(fftLabels).join("g").attr("class", "item")
  .attr("transform", (d, i) => `translate(6,${15 + i * 24.5})`)
  .each(function (d, i) {
    const g = d3.select(this);
    g.append("rect").attr("x", 0).attr("y", -5.5).attr("width", 32).attr("height", 11).attr("fill", fftColors[i]);
    g.append("text").attr("x", 43).attr("y", 5.5).attr("font-family", MPL).attr("font-size", 15)
      .attr("fill", INK).text(d);
  });

// ---------------------------------------------------------------------------
// ENC inset
// ---------------------------------------------------------------------------
const enc = svg.append("g");
enc.append("rect").attr("x", 1306).attr("y", 127).attr("width", 362).attr("height", 197).attr("fill", "#fff");
const ex = d3.scaleLinear().domain([0, 4]).range([1362, 1664]);
const ey = d3.scaleLinear().domain([0, 3000]).range([288, 154]);

enc.append("g").selectAll("line").data(peakingTicks).join("line")
  .attr("x1", d => ex(d)).attr("x2", d => ex(d)).attr("y1", ey(0)).attr("y2", ey(3000))
  .attr("stroke", "#c4c4c4").attr("stroke-width", 1);
enc.append("g").selectAll("line").data(encTicks).join("line")
  .attr("x1", ex(0)).attr("x2", ex(4)).attr("y1", d => ey(d)).attr("y2", d => ey(d))
  .attr("stroke", "#c4c4c4").attr("stroke-width", 1);
enc.append("rect").attr("x", ex(0)).attr("y", ey(3000))
  .attr("width", ex(4) - ex(0)).attr("height", ey(0) - ey(3000))
  .attr("fill", "none").attr("stroke", "#444").attr("stroke-width", 1.2);

enc.append("g").attr("transform", `translate(0,${ey(0)})`)
  .call(d3.axisBottom(ex).tickValues(peakingTicks).tickSize(3).tickPadding(4).tickFormat(d3.format(".1f")))
  .call(g => styleAxis(g, 10));
enc.append("g").attr("transform", `translate(${ex(0)},0)`)
  .call(d3.axisLeft(ey).tickValues(encTicks).tickSize(3).tickPadding(3).tickFormat(d3.format("d")))
  .call(g => styleAxis(g, 10));

enc.append("text").attr("x", (ex(0) + ex(4)) / 2).attr("y", 146)
  .attr("text-anchor", "middle").attr("font-family", MPL).attr("font-size", 11.5)
  .attr("fill", INK).text("ENC comparision");
enc.append("text").attr("x", (ex(0) + ex(4)) / 2).attr("y", 321)
  .attr("text-anchor", "middle").attr("font-family", MPL).attr("font-size", 12)
  .attr("fill", INK).text("Peaking time / (\u00b5s)");
enc.append("text")
  .attr("transform", `translate(1317,${(ey(0) + ey(3000)) / 2}) rotate(-90)`)
  .attr("text-anchor", "middle").attr("font-family", MPL).attr("font-size", 11)
  .attr("fill", INK).text("ENC /e-");

const encPts = peakingTimes.map((t, i) => [t, encValues[i]]);
enc.append("path").datum(encPts)
  .attr("d", d3.line().x(d => ex(d[0])).y(d => ey(d[1])))
  .attr("fill", "none").attr("stroke", "#4fd3d3").attr("stroke-width", 3).attr("stroke-opacity", 0.9);

const encSymbols = [d3.symbolCircle, d3.symbolStar, d3.symbolTriangle, d3.symbolTimes];
enc.append("g").selectAll("path").data(encPts).join("path")
  .attr("transform", d => `translate(${ex(d[0])},${ey(d[1])})`)
  .attr("d", (d, i) => d3.symbol().type(encSymbols[i]).size(i === 0 ? 70 : 55)())
  .attr("fill", (d, i) => i === 3 ? "none" : fftColors[i])
  .attr("stroke", (d, i) => i === 3 ? "#cc44cc" : "none")
  .attr("stroke-width", 2);

enc.append("g").selectAll("text").data(encPts).join("text")
  .attr("x", d => ex(d[0])).attr("y", ey(1500)).attr("dy", "0.35em")
  .attr("font-family", MPL).attr("font-size", 12.5).attr("fill", INK)
  .text(d => d[1]);

enc.append("ellipse")
  .attr("cx", ex(peakingTimes[2]) + 10).attr("cy", ey(1570))
  .attr("rx", 29).attr("ry", 24.5)
  .attr("fill", "none").attr("stroke", "#ff0000").attr("stroke-width", 3);

// ---------------------------------------------------------------------------
// Annotations
// ---------------------------------------------------------------------------
const notes = svg.append("g");

function arrow(g, sx, sy, tx, ty) {
  const a = Math.atan2(ty - sy, tx - sx), L = 20, s = 0.52;
  g.append("line").attr("x1", sx).attr("y1", sy).attr("x2", tx).attr("y2", ty)
    .attr("stroke", ARROW).attr("stroke-width", 1.5);
  g.append("path")
    .attr("d", `M${tx - L * Math.cos(a - s)},${ty - L * Math.sin(a - s)}L${tx},${ty}L${tx - L * Math.cos(a + s)},${ty - L * Math.sin(a + s)}`)
    .attr("fill", "none").attr("stroke", ARROW).attr("stroke-width", 1.5);
}

notes.append("rect").attr("x", 94).attr("y", 77).attr("width", 783).attr("height", 196)
  .attr("fill", "#fff").attr("stroke", "#000").attr("stroke-width", 1.5);
const boxLines = ["3 channels appear to be open at the",
                  "FE input: characterized by noise lower",
                  "than expected for DUNE length wires"];
const boxWidths = [710, 756, 717];
notes.selectAll("text.box").data(boxLines).join("text").attr("class", "box")
  .attr("x", 113).attr("y", (d, i) => 132 + i * 58)
  .attr("font-family", NOTE).attr("font-size", 40).attr("fill", "#000")
  .attr("textLength", (d, i) => boxWidths[i]).attr("lengthAdjust", "spacingAndGlyphs")
  .text(d => d);

const tempLines = ["Temperature:", "TT0907: ~173K", "FEASICs:  ~183K"];
const tempWidths = [258, 272, 308];
notes.selectAll("text.temp").data(tempLines).join("text").attr("class", "temp")
  .attr("x", 124).attr("y", (d, i) => 432 + i * 59.5)
  .attr("font-family", NOTE).attr("font-size", 40).attr("fill", "#1f1fff")
  .attr("textLength", (d, i) => tempWidths[i]).attr("lengthAdjust", "spacingAndGlyphs")
  .style("white-space", "pre")
  .text(d => d);

notes.append("text").attr("x", 1163).attr("y", 785)
  .attr("font-family", NOTE).attr("font-size", 42).attr("fill", "#000")
  .attr("textLength", 310).attr("lengthAdjust", "spacingAndGlyphs")
  .text("Gain = 80 e-/bin");

// arrow from the note to the ENC inset
arrow(notes, 877, 227, ex(0) - 53, ey(580));
// arrows from the note to the open channels
const arrowStarts = [[510, 273], [515, 273], [521, 273]];
const tipOffsets = [[5, -3], [-8, -11], [-3, -9]];
openChannels.forEach((ch, i) => {
  arrow(notes, arrowStarts[i][0], arrowStarts[i][1],
        x(ch) + tipOffsets[i][0], y(channelNoise[ch]) + tipOffsets[i][1]);
});
</script>
</body>
</html>
